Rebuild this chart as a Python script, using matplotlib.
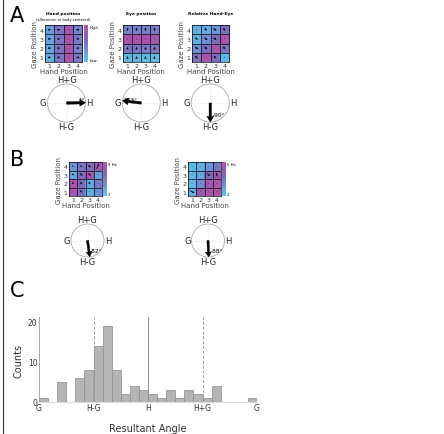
import numpy as np
import matplotlib
matplotlib.use("Agg")
import matplotlib.pyplot as plt
from matplotlib.colors import LinearSegmentedColormap
from matplotlib.patches import Circle
from matplotlib.lines import Line2D

# ---------------- data ----------------
positions = [1, 2, 3, 4]
# heatmap values (rows: gaze 1..4 bottom->top, cols: hand 1..4)
hand_vals = [[0.15, 0.55, 0.90, 0.50],
             [0.20, 0.55, 0.88, 0.45],
             [0.20, 0.55, 0.88, 0.48],
             [0.25, 0.55, 0.85, 0.45]]
eye_vals = [[0.10, 0.12, 0.10, 0.08],
            [0.55, 0.55, 0.52, 0.55],
            [0.90, 0.88, 0.90, 0.85],
            [0.45, 0.45, 0.45, 0.48]]
rel_vals = [[0.60, 0.90, 0.60, 0.10],
            [0.35, 0.60, 0.90, 0.55],
            [0.15, 0.35, 0.60, 0.85],
            [0.15, 0.20, 0.30, 0.60]]
b1_vals = [[0.90, 0.60, 0.15, 0.35],
           [0.90, 0.65, 0.20, 0.50],
           [0.20, 0.60, 0.85, 0.25],
           [0.30, 0.55, 0.60, 0.80]]
b2_vals = [[0.15, 0.85, 0.90, 0.90],
           [0.10, 0.35, 0.85, 0.90],
           [0.10, 0.20, 0.60, 0.85],
           [0.10, 0.15, 0.30, 0.50]]

# arrow components inside heatmaps
hand_u = [[0.35, 0.30, 0.05, -0.30], [0.35, 0.30, 0.05, -0.30],
          [0.35, 0.30, 0.05, -0.30], [0.30, 0.30, 0.05, -0.30]]
hand_v = [[0.00, 0.02, 0.00, 0.02], [0.02, 0.00, 0.00, 0.03],
          [0.03, 0.02, 0.00, 0.00], [0.05, 0.08, 0.00, 0.05]]
eye_u = [[0.03, 0.03, 0.00, 0.08], [0.03, 0.00, 0.00, 0.03],
         [0.00, 0.00, 0.00, 0.00], [0.03, 0.00, 0.03, 0.03]]
eye_v = [[0.30, 0.30, 0.30, 0.30], [0.30, 0.30, 0.30, 0.30],
         [0.05, 0.05, 0.05, 0.05], [-0.35, -0.35, -0.35, -0.35]]
rel_u = [[0.30, 0.05, 0.25, 0.05], [0.35, 0.30, 0.05, 0.25],
         [0.25, 0.35, 0.30, 0.05], [0.05, 0.20, 0.30, 0.25]]
rel_v = [[-0.25, -0.05, -0.25, -0.05], [-0.30, -0.30, -0.05, -0.25],
         [-0.25, -0.30, -0.30, -0.05], [-0.05, -0.25, -0.30, -0.25]]
b1_u = [[0.05, 0.25, 0.05, 0.05], [0.20, 0.25, 0.25, 0.05],
        [0.20, 0.30, 0.30, 0.05], [0.20, 0.20, 0.30, 0.30]]
b1_v = [[-0.05, -0.25, -0.05, -0.05], [-0.20, -0.25, -0.25, -0.05],
        [-0.20, -0.30, -0.30, -0.05], [-0.10, -0.20, -0.30, 0.60]]
b2_u = [[0.60, 0.05, 0.03, 0.03], [0.05, 0.05, 0.03, 0.03],
        [0.05, 0.05, 0.35, 0.10], [0.05, 0.05, 0.05, 0.05]]
b2_v = [[-0.30, -0.03, -0.03, -0.03], [-0.03, -0.03, -0.03, -0.03],
        [-0.03, -0.03, -0.35, -0.45], [-0.03, -0.03, -0.03, -0.03]]

# resultant angles (degrees) and labels
angles_A = [1, 173, -90]
angle_labels_A = ["1°", "173°", "-90°"]
angles_B = [-82, -88]
angle_labels_B = ["-82°", "-88°"]
circle_labels = ["H+G", "H-G", "G", "H"]

# histogram
bin_edges = np.arange(-180, 181, 15)
counts = [1, 0, 5, 0, 6, 8, 14, 19, 8, 2, 4, 3,
          2, 1, 3, 1, 3, 2, 1, 4, 0, 0, 0, 1]
hist_ticks = [-180, -90, 0, 90, 180]
hist_ticklabels = ["G", "H-G", "H", "H+G", "G"]
hist_yticks = [0, 10, 20]

# ---------------- figure ----------------
W, H = 444, 435
fig = plt.figure(figsize=(W / 100, H / 100), dpi=100)
fig.patch.set_facecolor("white")

def box(x0, y0, x1, y1):
    return [x0 / W, 1 - y1 / H, (x1 - x0) / W, (y1 - y0) / H]

cmap = LinearSegmentedColormap.from_list(
    "hm", ["#58cbea", "#6f90d8", "#8466b8", "#bd4ea8"])

def heatmap(rect, vals, u, v, title=None, subtitle=None):
    ax = fig.add_axes(rect)
    ax.imshow(np.array(vals), cmap=cmap, vmin=0, vmax=1, origin="lower",
              extent=(0.5, 4.5, 0.5, 4.5), aspect="auto")
    for k in (1.5, 2.5, 3.5):
        ax.axhline(k, color="k", lw=0.5)
        ax.axvline(k, color="k", lw=0.5)
    X, Y = np.meshgrid(positions, positions)
    ax.quiver(X, Y, np.array(u), np.array(v), angles="xy", scale_units="xy",
              scale=1, pivot="middle", width=0.022, headwidth=3,
              headlength=3.5, headaxislength=3, color="k", clip_on=False)
    ax.set_xlim(0.5, 4.5)
    ax.set_ylim(0.5, 4.5)
    ax.set_xticks(positions)
    ax.set_yticks(positions)
    ax.tick_params(labelsize=4.5, length=0, pad=1, colors="#333")
    ax.set_xlabel("Hand Position", fontsize=5, labelpad=0, color="#444")
    ax.set_ylabel("Gaze Position", fontsize=5, labelpad=1, color="#444")
    for s in ax.spines.values():
        s.set_linewidth(0.5)
    if title:
        ax.text(0.5, 1.26, title, transform=ax.transAxes, ha="center",
                va="bottom", fontsize=3.2, fontweight="bold")
    if subtitle:
        ax.text(0.5, 1.12, subtitle, transform=ax.transAxes, ha="center",
                va="bottom", fontsize=2.6)
    return ax

def colorbar(rect, top, bottom):
    ax = fig.add_axes(rect)
    ax.imshow(np.linspace(0, 1, 64)[:, None], cmap=cmap, origin="lower",
              aspect="auto", extent=(0, 1, 0, 1))
    ax.set_xticks([])
    ax.set_yticks([])
    for s in ax.spines.values():
        s.set_visible(False)
    ax.text(1.3, 1.0, top, transform=ax.transAxes, fontsize=2.8,
            va="top", ha="left")
    ax.text(1.3, 0.0, bottom, transform=ax.transAxes, fontsize=2.8,
            va="bottom", ha="left")

def polar_plot(cx, cy, r, ang, lab, fs=6):
    half = 32
    ax = fig.add_axes(box(cx - half, cy - half, cx + half, cy + half))
    lim = half / r
    ax.set_xlim(-lim, lim)
    ax.set_ylim(-lim, lim)
    ax.axis("off")
    ax.add_patch(Circle((0, 0), 1, fill=False, ec="#a8a8a8", lw=0.6,
                        zorder=1))
    ax.plot([-1, 1], [0, 0], ls=(0, (2, 2)), color="#e0e0e0", lw=0.5,
            zorder=1)
    ax.plot([0, 0], [-1, 1], ls=(0, (2, 2)), color="#e0e0e0", lw=0.5,
            zorder=1)
    ax.text(0, 1.02, circle_labels[0], ha="center", va="bottom", fontsize=fs,
            color="#222")
    ax.text(0, -1.02, circle_labels[1], ha="center", va="top", fontsize=fs,
            color="#222")
    ax.text(-1.06, 0, circle_labels[2], ha="right", va="center", fontsize=fs,
            color="#222")
    ax.text(1.04, 0, circle_labels[3], ha="left", va="center", fontsize=fs,
            color="#222")
    a = np.deg2rad(ang)
    ax.arrow(0, 0, np.cos(a), np.sin(a), width=0.13, head_width=0.36,
             head_length=0.3, length_includes_head=True, fc="k", ec="k",
             lw=0.3, zorder=5)
    if abs(ang) < 45:
        tx, ty, ha = 0.78, 0.17, "center"
    elif abs(ang) > 135:
        tx, ty, ha = -0.55, 0.2, "center"
    else:
        tx, ty, ha = 0.14, -0.62, "left"
    ax.text(tx, ty, lab, ha=ha, va="center", fontsize=4.2, zorder=6)
    return ax

# ---- Panel A ----
fig.text(10 / W, 1 - 16 / H, "A", fontsize=15, va="center", ha="left")
heatmap(box(45, 26, 82, 63), hand_vals, hand_u, hand_v,
        "Hand position", "(allocentric or body-centered)")
colorbar(box(84, 26, 88, 63), "High", "Low")
heatmap(box(123, 26, 159, 63), eye_vals, eye_u, eye_v, "Eye position")
heatmap(box(192, 26, 229, 63), rel_vals, rel_u, rel_v, "Relative Hand-Eye")

for cx, ang, lab in zip([66.5, 141.3, 210.3], angles_A, angle_labels_A):
    polar_plot(cx, 104, 19, ang, lab)

# ---- Panel B ----
fig.text(10 / W, 1 - 160 / H, "B", fontsize=15, va="center", ha="left")
heatmap(box(69, 163, 102, 197), b1_vals, b1_u, b1_v)
colorbar(box(103, 163, 107, 197), "9 Hz", "3")
heatmap(box(188, 163, 221, 197), b2_vals, b2_u, b2_v)
colorbar(box(222, 163, 226, 197), "5 Hz", "2")

for cx, ang, lab in zip([87.5, 208], angles_B, angle_labels_B):
    polar_plot(cx, 241.5, 16.5, ang, lab, fs=6)

# ---- Panel C ----
fig.text(10 / W, 1 - 291 / H, "C", fontsize=15, va="center", ha="left")
axh = fig.add_axes(box(39, 318, 257, 403))
centers = (bin_edges[:-1] + bin_edges[1:]) / 2
axh.bar(centers, counts, width=15, color="#b5b5b5", edgecolor="#8a8a8a",
        lw=0.5, zorder=2)
axh.axvline(-90, color="#9a9a9a", ls=(0, (3, 2)), lw=0.7, zorder=1)
axh.axvline(90, color="#9a9a9a", ls=(0, (3, 2)), lw=0.7, zorder=1)
axh.axvline(0, color="#8a8a8a", lw=0.7, zorder=1)
axh.set_xlim(-180, 180)
axh.set_ylim(0, 21.2)
axh.set_xticks(hist_ticks)
axh.set_xticklabels(hist_ticklabels)
axh.set_yticks(hist_yticks)
axh.tick_params(labelsize=5.5, length=0, pad=1, colors="#333")
axh.spines["top"].set_visible(False)
axh.spines["right"].set_visible(False)
axh.spines["left"].set_color("#999")
axh.spines["left"].set_linewidth(0.6)
axh.spines["bottom"].set_color("#dddddd")
axh.spines["bottom"].set_linewidth(0.8)
axh.set_ylabel("Counts", fontsize=7, labelpad=3, color="#333")
axh.set_xlabel("Resultant Angle", fontsize=7, labelpad=8, color="#333")

# left border line
fig.add_artist(Line2D([3 / W, 3 / W], [0, 1], transform=fig.transFigure,
                      color="#333", lw=0.8))

fig.savefig("out.png", dpi=100)
